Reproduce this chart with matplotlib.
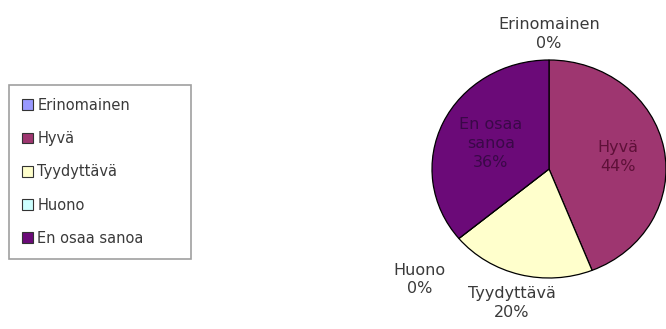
import matplotlib.pyplot as plt
import numpy as np
from matplotlib.patches import Patch

# vastausten jakauma
labels = ['Erinomainen', 'Hyvä', 'Tyydyttävä', 'Huono', 'En osaa sanoa']
values = [0, 44, 20, 0, 36]
colors = ['#9999FF', '#9E3670', '#FFFFCC', '#CCFFFF', '#6B0A78']

plt.rcParams['font.family'] = ['DejaVu Sans']

fig = plt.figure(figsize=(6.66, 3.29), dpi=100)
# pie is drawn slightly wider than tall
ax = fig.add_axes([432 / 666, (329 - 169 - 109) / 329, 234 / 666, 218 / 329])

wedges, _ = ax.pie(values, colors=colors, startangle=90, counterclock=False,
                   wedgeprops=dict(edgecolor='black', linewidth=0.9))
ax.set_aspect('auto')
ax.set_xlim(-1, 1)
ax.set_ylim(-1, 1)

# label distance and colour per slice (inside labels for the big slices)
dist = [1.24, 0.6, 1.27, 1.5, 0.55]
txtcol = ['#3a3a3a', '#5e1038', '#3a3a3a', '#3a3a3a', '#3a0848']
names = ['Erinomainen', 'Hyvä', 'Tyydyttävä', 'Huono', 'En osaa\nsanoa']
for w, v, d, c, n in zip(wedges, values, dist, txtcol, names):
    ang = np.deg2rad((w.theta1 + w.theta2) / 2)
    if n == 'Huono':
        ang = np.deg2rad(w.theta1 + 3)
    ax.text(d * np.cos(ang), d * np.sin(ang), f'{n}\n{v}%', ha='center', va='center',
            fontsize=11.5, color=c, linespacing=1.3, clip_on=False)

handles = [Patch(facecolor=c, edgecolor='#333333', linewidth=0.8) for c in colors]
leg = fig.legend(handles, labels, loc='upper left',
                 bbox_to_anchor=(9 / 666, 1 - 88 / 329, 182 / 666, 0.01), mode='expand',
                 fontsize=10.5, frameon=True, fancybox=False, shadow=False,
                 edgecolor='#888888', handlelength=0.75, handleheight=0.75,
                 handletextpad=0.3, labelspacing=1.25, borderpad=0.9,
                 borderaxespad=0)
for t in leg.get_texts():
    t.set_color('#3a3a3a')
leg.get_frame().set_linewidth(1.2)

fig.savefig('out.png', dpi=100)
